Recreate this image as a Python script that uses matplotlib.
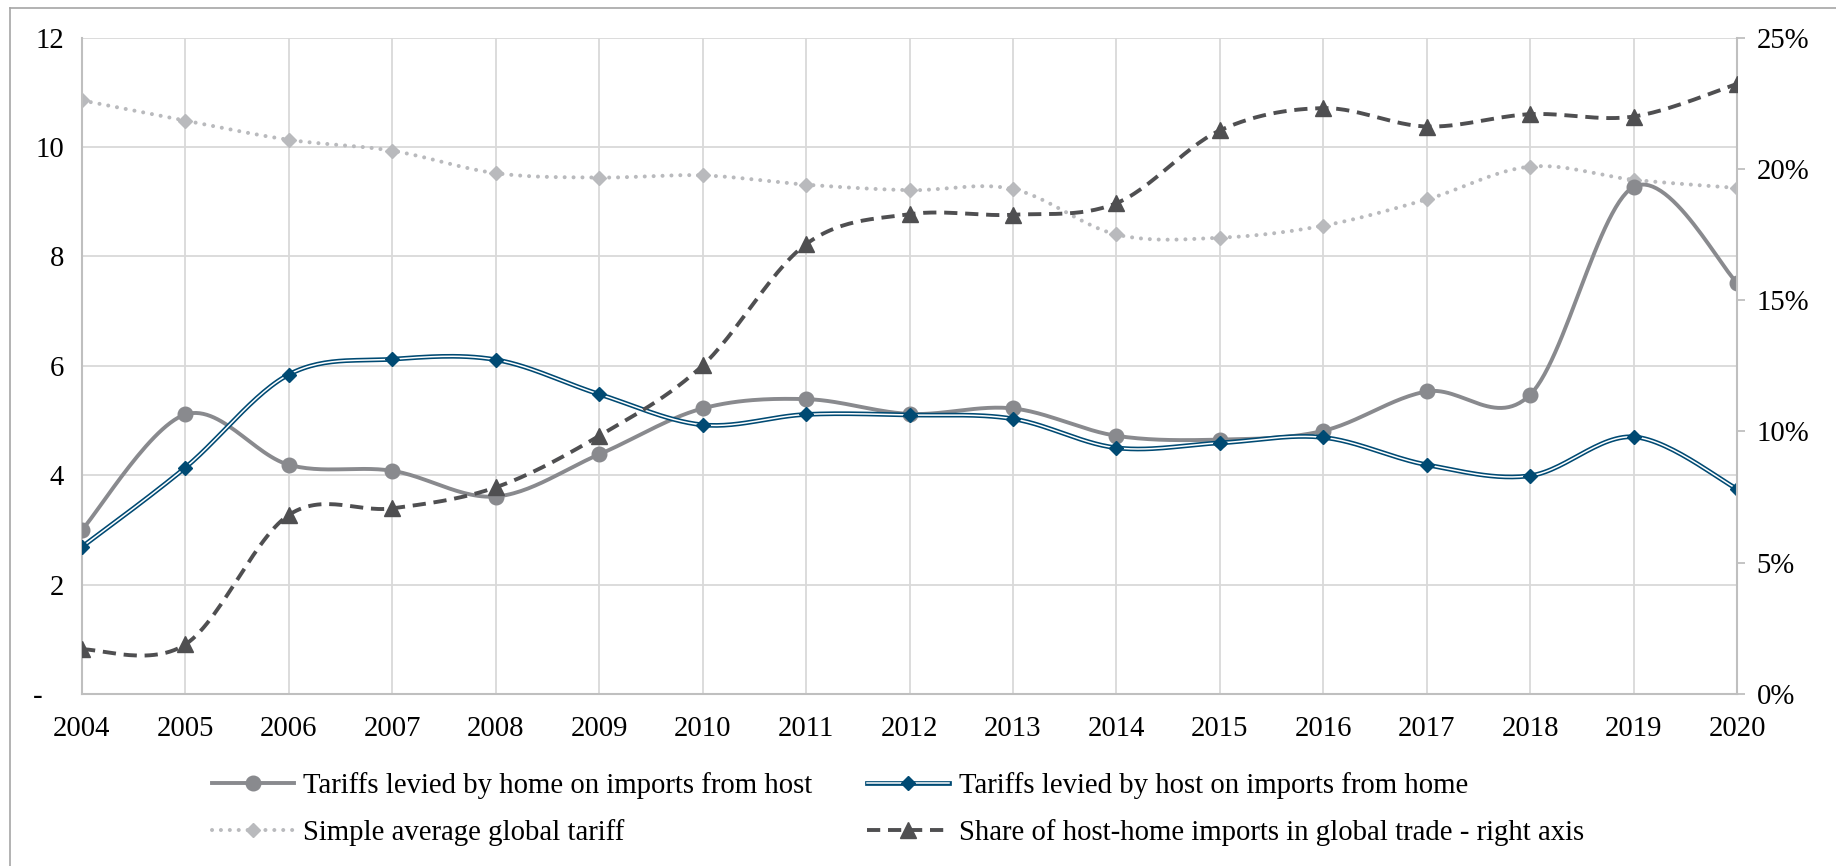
import numpy as np
import matplotlib
matplotlib.use("Agg")
import matplotlib.pyplot as plt
from matplotlib.lines import Line2D
from matplotlib.legend_handler import HandlerTuple
from matplotlib.ticker import FuncFormatter

# data
years = list(range(2004, 2021))
home_on_host = [3.00, 5.11, 4.19, 4.08, 3.61, 4.38, 5.22, 5.39, 5.12, 5.22,
                4.72, 4.65, 4.81, 5.53, 5.47, 9.27, 7.52]
host_on_home = [2.69, 4.14, 5.84, 6.12, 6.11, 5.48, 4.92, 5.11, 5.10, 5.03,
                4.50, 4.59, 4.69, 4.19, 3.99, 4.70, 3.75]
global_avg = [10.85, 10.48, 10.13, 9.93, 9.52, 9.44, 9.48, 9.31, 9.21, 9.23,
              8.40, 8.34, 8.56, 9.04, 9.64, 9.40, 9.25]
share_pct = [1.70, 1.89, 6.82, 7.07, 7.87, 9.83, 12.51, 17.13, 18.27, 18.25,
             18.69, 21.46, 22.31, 21.61, 22.08, 21.99, 23.23]

labels = ["Tariffs levied by home on imports from host",
          "Tariffs levied by host on imports from home",
          "Simple average global tariff",
          "Share of host-home imports in global trade - right axis"]

c_home = "#898a8e"
c_host = "#004a73"
c_avg = "#b9babd"
c_share = "#4f4f51"
c_grid = "#d9d9d9"
c_spine = "#bfbfbf"

plt.rcParams["font.family"] = ["Liberation Serif", "DejaVu Serif"]
FS = 20.7


def smooth(x, y, n=30):
    # excel-like smoothed line (catmull-rom as bezier)
    x = np.asarray(x, float)
    y = np.asarray(y, float)
    px = np.concatenate([[x[0]], x, [x[-1]]])
    py = np.concatenate([[y[0]], y, [y[-1]]])
    t = np.linspace(0, 1, n)[:, None]
    outx, outy = [], []
    for i in range(1, len(px) - 2):
        p0 = np.array([px[i], py[i]])
        p3 = np.array([px[i + 1], py[i + 1]])
        c1 = p0 + (p3 - np.array([px[i - 1], py[i - 1]])) / 6.0
        c2 = p3 - (np.array([px[i + 2], py[i + 2]]) - p0) / 6.0
        b = ((1 - t) ** 3) * p0 + 3 * ((1 - t) ** 2) * t * c1 + 3 * (1 - t) * t ** 2 * c2 + t ** 3 * p3
        outx.append(b[:, 0])
        outy.append(b[:, 1])
    return np.concatenate(outx), np.concatenate(outy)


fig = plt.figure(figsize=(18.36, 8.66), dpi=100)
ax = fig.add_axes([82 / 1836, 1 - 694 / 866, (1737 - 82) / 1836, (694 - 37.5) / 866])
ax2 = ax.twinx()

dot_ls = (0, (0.01, 2.2))
dash_ls = (0, (3.4, 2.0))

# series 1: home on host
sx, sy = smooth(years, home_on_host)
ax.plot(sx, sy, color=c_home, lw=2.8, solid_capstyle="round", zorder=3)
ax.plot(years, home_on_host, ls="none", marker="o", ms=10.5, color=c_home, zorder=3)

# series 2: host on home, double line
sx, sy = smooth(years, host_on_home)
ax.plot(sx, sy, color=c_host, lw=3.4, zorder=4)
ax.plot(sx, sy, color="white", lw=1.1, zorder=4)
ax.plot(years, host_on_home, ls="none", marker="D", ms=7.2, color=c_host, zorder=4)

# series 3: simple average, dotted
sx, sy = smooth(years, global_avg)
ax.plot(sx, sy, color=c_avg, lw=2.9, ls=dot_ls, dash_capstyle="round", zorder=2)
ax.plot(years, global_avg, ls="none", marker="D", ms=7.6, color=c_avg, zorder=2)

# series 4: share on right axis, dashed
sx, sy = smooth(years, share_pct)
ax2.plot(sx, sy, color=c_share, lw=2.8, ls=dash_ls, zorder=5)
ax2.plot(years, share_pct, ls="none", marker="^", ms=11.5, color=c_share, zorder=5)

# axes styling
ax.set_xlim(2004, 2020)
ax.set_ylim(0, 12)
ax2.set_ylim(0, 25)
ax.set_xticks(years)
ax.set_xticklabels([str(y) for y in years])
ax.set_yticks(range(0, 13, 2))
ax.set_yticklabels(["-   "] + [str(v) for v in range(2, 13, 2)])
ax2.set_yticks(range(0, 26, 5))
ax2.yaxis.set_major_formatter(FuncFormatter(lambda v, p: "%d%%" % v))

ax.grid(True, color=c_grid, lw=1.3)
ax.set_axisbelow(True)
ax.tick_params(axis="x", length=0, pad=16, labelsize=FS)
ax.tick_params(axis="y", length=0, pad=13, labelsize=FS)
ax2.tick_params(axis="y", length=6, width=1.3, color=c_spine, pad=8, labelsize=FS)

for s in ["top", "right"]:
    ax.spines[s].set_visible(False)
for s in ["left", "bottom"]:
    ax.spines[s].set_color(c_spine)
    ax.spines[s].set_linewidth(1.5)
for s in ["top", "left", "bottom"]:
    ax2.spines[s].set_visible(False)
ax2.spines["right"].set_color(c_spine)
ax2.spines["right"].set_linewidth(1.5)

# legend
h_home = (Line2D([], [], color=c_home, lw=2.8),
          Line2D([], [], ls="none", marker="o", ms=10.5, color=c_home))
h_host = (Line2D([], [], color=c_host, lw=3.4),
          Line2D([], [], color="white", lw=1.1),
          Line2D([], [], ls="none", marker="D", ms=7.2, color=c_host))
h_avg = (Line2D([], [], color=c_avg, lw=2.9, ls=dot_ls, dash_capstyle="round"),
         Line2D([], [], ls="none", marker="D", ms=7.6, color=c_avg))
h_share = (Line2D([], [], color=c_share, lw=2.8, ls=dash_ls),
           Line2D([], [], ls="none", marker="^", ms=11.5, color=c_share))

fig.legend([h_home, h_avg, h_host, h_share],
           [labels[0], labels[2], labels[1], labels[3]],
           handler_map={tuple: HandlerTuple(ndivide=1)},
           ncol=2, frameon=False, fontsize=FS, loc="center",
           bbox_to_anchor=(0.489, 1 - 809 / 866),
           handlelength=2.85, handletextpad=0.33, columnspacing=1.9,
           labelspacing=0.71)

# chart-area border (top and left edges visible)
fig.add_artist(Line2D([10 / 1836, 10 / 1836], [0, 1 - 8 / 866], transform=fig.transFigure,
                      color="#a6a6a6", lw=1.2))
fig.add_artist(Line2D([10 / 1836, 1], [1 - 8 / 866, 1 - 8 / 866], transform=fig.transFigure,
                      color="#a6a6a6", lw=1.2))

fig.savefig("out.png", dpi=100)
